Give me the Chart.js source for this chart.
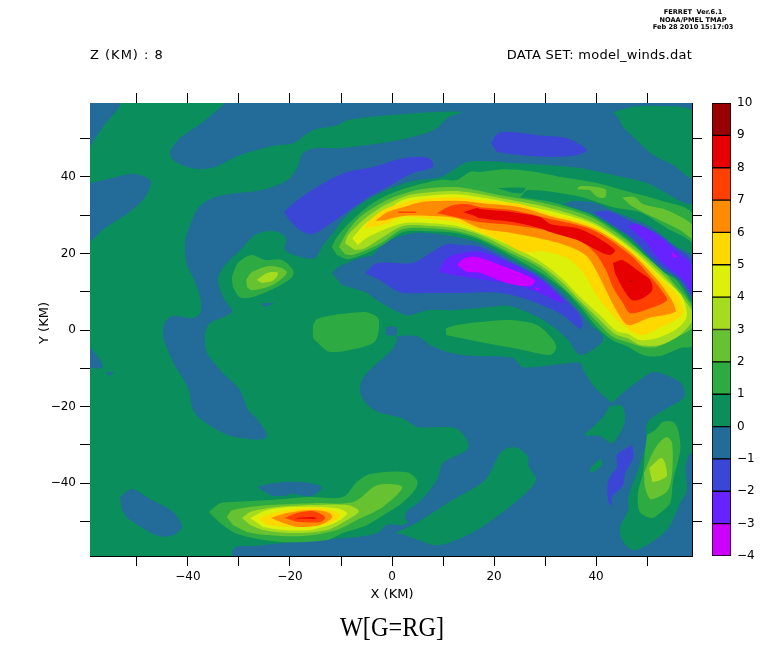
<!DOCTYPE html>
<html lang="en">

<head>
  <meta charset="UTF-8">
  <title>W[G=RG]</title>
  <style>
    body { margin: 0; background: #fff; }
    #page { position: relative; width: 768px; height: 662px; overflow: hidden; }
    canvas { position: absolute; top: 0; }
    #mainChart { left: 0; }
    #barChart { left: 700px; }
    .txt { position: absolute; color: #000; font-family: "DejaVu Sans", sans-serif; font-size: 13px; white-space: pre; line-height: 1; }
    .small { font-size: 6.6px; width: 100px; text-align: center; left: 643px; font-weight: bold; }
  </style>
</head>

<body>
  <div id="page">
    <canvas id="mainChart" width="768" height="662"></canvas>
    <canvas id="barChart" width="68" height="662"></canvas>
    <div class="txt small" style="top:9px">FERRET  Ver.6.1</div>
    <div class="txt small" style="top:17px">NOAA/PMEL TMAP</div>
    <div class="txt small" style="top:24px">Feb 28 2010 15:17:03</div>
    <div class="txt" style="left:90px;top:48px;letter-spacing:1px">Z (KM) : 8</div>
    <div class="txt" style="right:76px;top:48px;letter-spacing:0.25px">DATA SET: model_winds.dat</div>
    <div class="txt" style="left:12px;top:340px;width:50px;text-align:center;transform:rotate(-90deg);transform-origin:25px 0;margin-top:-17px;margin-left:0">Y (KM)</div>
    <div class="txt" style="left:342px;width:100px;text-align:center;top:587px">X (KM)</div>
    <div class="txt" style="left:292px;width:200px;text-align:center;top:614px;font-family:'Liberation Serif',serif;font-size:27px;transform:scaleX(0.9)">W[G=RG]</div>
  </div>

  <script src="https://cdn.jsdelivr.net/npm/chart.js"></script>
  <script>
    // contour band edges and the colour of each band (-4..-3 up to 9..10)
    const bandEdges = [-4, -3, -2, -1, 0, 1, 2, 3, 4, 5, 6, 7, 8, 9, 10];
    const bandColors = ['#cc00ff', '#6622ff', '#3c46d6', '#236b99', '#0a8f5c', '#2eaa42', '#66c230', '#a6dc1e', '#dcf00a', '#ffd800', '#ff8c00', '#ff4000', '#e60000', '#990000'];

    const tickValues = [-50, -40, -30, -20, -10, 0, 10, 20, 30, 40, 50];
    const labelValues = [-40, -20, 0, 20, 40];

    // contour outlines in km. [x, y]
    const base = [[-59.2, 59.3], [59, 59.3], [59, -59], [-59.2, -59]];

    // -1..0
    const blueBig = [[-32.7, 59.3], [-37.1, 54.3], [-41.6, 50.1], [-43.5, 46.5], [-42.9, 44.4], [-40.6, 42.8], [-37.1, 42], [-34.3, 42.8], [-30.4, 45.4], [-26.5, 47], [-22.5, 48.3], [-19.4, 48.8], [-15.5, 52.2], [-10.8, 53.5], [-8.8, 54.8], [-2.4, 55.9], [7.5, 56.9], [13.7, 56.9], [10.8, 55.4], [8.8, 52.7], [6.1, 51.2], [0.2, 49.3], [-10.2, 47.5], [-15.1, 47.5], [-17.5, 46.2], [-18.6, 42.3], [-20.4, 39.2], [-25.5, 36.6], [-32.2, 35.5], [-35.3, 34.5], [-38, 31.9], [-39.2, 28.7], [-40.6, 23], [-40.2, 17], [-39, 13.8], [-37.6, 8.6], [-37.5, 4.7], [-39, 3.1], [-42.9, 3.7], [-44.5, 2.1], [-44.9, -0.8], [-44.7, -2.6], [-42.9, -8.4], [-40, -15.1], [-39, -20.9], [-37.3, -23.5], [-32.2, -27.4], [-27.5, -28.5], [-25.3, -28.5], [-24.5, -27.4], [-26.3, -23.5], [-28.2, -20.9], [-29.8, -15.7], [-33.3, -11], [-36.3, -6], [-36.7, -2.6], [-36.7, -0.8], [-35.7, 1.8], [-31.4, 4.7], [-33.1, 8.6], [-34.1, 13.1], [-33.1, 16.4], [-29.4, 21.4], [-26.9, 24.8], [-24.5, 25.8], [-22.4, 25.6], [-20.8, 24], [-21, 20.9], [-18, 19.1], [-15.1, 18.8], [-13.5, 22.2], [-11.6, 25.3], [-8.8, 30], [-4.9, 33.9], [-1, 36.6], [4.1, 38.9], [9.4, 39.9], [12, 41.8], [14.7, 43.9], [19.2, 44.1], [23.7, 43.6], [30.4, 43.1], [36.9, 42.3], [43.3, 40.5], [50, 38.4], [59, 33.4], [59, 59.3]];
    const blueUnder = [[-11.8, 14.9], [-10.6, 16.4], [-6.3, 18.8], [-3.7, 19.6], [-2.4, 21.7], [-0.4, 23.5], [4.1, 25.3], [7.5, 25.3], [12.7, 24.3], [17.3, 22.7], [23.7, 18.3], [29, 14.4], [33.5, 9.7], [36.9, 4.7], [39.4, 0.8], [41.2, -1.3], [41.2, -3.1], [36.9, -6.5], [34.5, -2.6], [32.4, 0], [29, 3.1], [23.1, 6.3], [19.2, 6], [12, 5.2], [6.9, 5.2], [2.9, 3.9], [-2.4, 7.3], [-4.9, 9.7], [-9.8, 11.7]];
    const blueSquare = [[-1.2, 0.8], [0.8, 0.8], [0.8, -1.3], [-1.2, -1.3]];
    const blueLower = [[0.8, -1.6], [4.9, -1.6], [7.5, -3.9], [10.8, -5.7], [13.9, -6.5], [17.3, -6.8], [23.7, -7.3], [25.7, -9.7], [34.9, -8.6], [36.9, -8.6], [37.5, -10.4], [39.4, -14.4], [41.4, -17], [43.1, -18.8], [44.7, -17], [50.6, -11.2], [52.6, -11.2], [56.5, -13.6], [57.3, -15.7], [57.1, -17.8], [52.6, -21.4], [50, -24.3], [49.8, -29.5], [48.2, -36.6], [46.3, -43.6], [46.3, -47], [44.7, -51.4], [45.1, -54.8], [47.1, -57.4], [49.2, -56.7], [53.9, -52.2], [56.5, -45.2], [57.8, -41.8], [57.5, -36.6], [58, -33.2], [59, -31.9], [59, -59], [-31.2, -59], [-30.8, -56.7], [-27.5, -56.4], [-14.5, -54.8], [-7.3, -54.1], [-2.9, -53], [-1, -50.9], [2, -50.9], [3.1, -50.1], [2.5, -49.1], [3.1, -47], [5.1, -45.2], [8.8, -39.2], [10, -34.7], [14.7, -31.3], [14.9, -29.2], [12.4, -25.6], [5.1, -25.3], [2, -23], [-2.7, -21.4], [-5.3, -18.8], [-6.3, -15.7], [-5.7, -12.5], [-3.3, -9.1], [0, -5.2], [1, -2.6]];
    const blueCorner = [[-59.2, 59.3], [-53.3, 59.3], [-56.7, 53], [-59.2, 47.8]];
    const blueLeft = [[-59.2, 38.4], [-56.3, 39.2], [-51.8, 40.7], [-49.4, 40.5], [-47.3, 38.9], [-48.4, 34.7], [-51.8, 30.5], [-56.3, 26.6], [-59.2, 23]];
    const blueEdge = [[-59.2, -4.4], [-56.9, -8.4], [-56.9, -9.9], [-59.2, -9.9]];
    const blueTiny = [[-56.3, -11], [-54.5, -11], [-55.3, -12]];
    const blueBlob = [[-53.3, -43.6], [-51, -41.5], [-47.1, -44.4], [-42.9, -47.5], [-41.2, -51.4], [-42.9, -53.5], [-45.9, -53.8], [-51.8, -49.1], [-52.9, -47]];
    const blueSouth = [[-26.5, -41], [-22.9, -39.9], [-17.6, -39.7], [-13.7, -41], [-15.7, -43.3], [-18.4, -43.1], [-19.4, -42.6], [-21, -43.3], [-23.5, -43.3]];
    const blueTiny2 = [[-25.7, 7], [-23.1, 7], [-25.1, 6]];

    // 0..1 islands sitting on the blue
    const greenTopRight = [[43.3, 56.9], [46.7, 58.2], [52, 58.5], [59, 56.9], [59, 39.7], [55.1, 43.1], [51.2, 45.7], [48, 49.6], [45.3, 53], [44.3, 55.6]];
    const greenLens = [[0.6, -53], [5.1, -50.1], [11.8, -44.4], [18.2, -39.2], [21.2, -32.1], [22.7, -30.8], [24.7, -30.8], [26.7, -33.2], [26.7, -35.3], [28.2, -39.2], [24.7, -44.4], [19.6, -49.6], [14.9, -53.5], [9, -56.2], [5.1, -54.8], [2.5, -53.5]];
    const greenIsland = [[42.7, -19.8], [45.1, -19.8], [45.7, -23.5], [44.7, -26.9], [43.1, -29.5], [40.8, -27.7], [37.8, -27.4], [39.2, -25.6], [41.4, -22.7]];
    const greenSpeck = [[38.6, -36.6], [40.8, -33.7], [41.2, -35.3], [39.2, -37.3]];

    // -2..-1
    const violetA = [[-21.2, 30.8], [-18, 34.5], [-11.6, 39.7], [-8.8, 41.3], [-3.7, 42.6], [2.2, 44.9], [7.3, 44.9], [8, 42.6], [4.1, 41], [-1, 37.3], [-4.9, 34.5], [-11.6, 28.2], [-15.5, 25.1], [-18, 26.1], [-20.4, 29.2]];
    const violetB = [[19.4, 48.8], [20.8, 51.4], [23.1, 51.7], [28.4, 50.9], [34.3, 50.1], [38.2, 47], [36.3, 45.7], [31, 45.2], [25.1, 45.7], [20.6, 46.5]];
    const violetC = [[-5.3, 14.9], [-2.9, 17.5], [4.1, 17.5], [7.5, 20.1], [10.8, 22.5], [13.3, 22.2], [17.3, 21.7], [23.7, 17.5], [29, 13.8], [33.5, 8.6], [36.9, 3.9], [37.3, 1.3], [36.9, 0.3], [32.9, 4.4], [25.7, 8.4], [21.2, 9.7], [17.3, 9.9], [14.7, 9.7], [6.9, 9.7], [1.6, 9.9], [-2.4, 13.1]];
    const violetD = [[47.1, -30], [47.3, -33.4], [45.7, -37.3], [45.3, -40.5], [43.1, -43.6], [43.1, -45.7], [42.4, -44.9], [42.4, -39.2], [44.1, -35.8], [44.1, -32.6], [46.3, -30.6]];

    // -3..-2 and -4..-3 under the ridge
    const purpleA = [[9.4, 16.2], [10.8, 18.8], [12.7, 19.8], [17.3, 20.4], [23.7, 17.2], [29, 13.3], [33.5, 7.8], [33.5, 7], [29, 9.7], [23.7, 12], [17.3, 13.3], [13.3, 14.1], [9.4, 15.1]];
    const magentaA = [[12.7, 17], [14.3, 18.8], [16.7, 19.1], [21.2, 17], [28, 13.1], [27.1, 11.5], [22.5, 12.3], [17.3, 14.9], [14.7, 15.1]];
    const magentaB = [[28, 11.2], [29, 10.7], [28.2, 10.4]];

    // the main ridge, 1..2 up to 9..10
    const ridge1 = [[-11.8, 21.7], [-10.8, 24.3], [-8.2, 28.2], [-4.9, 32.1], [-1, 35.2], [4.1, 37.6], [9.4, 39.2], [12.7, 39.2], [15.3, 41.3], [17.3, 41.3], [21.8, 42], [27.1, 41.5], [33.5, 39.9], [40.2, 38.4], [46.7, 36], [52.5, 33.9], [59, 30], [59, -3.9], [56.5, -4.7], [52.5, -6.8], [49.2, -6.5], [46.1, -4.2], [43.1, -2.6], [39.8, 1.3], [36.9, 6], [33.5, 10.7], [29, 15.1], [23.7, 19.1], [17.3, 23.5], [12.7, 25.3], [7.5, 25.8], [2.2, 25.6], [-1.8, 22.2], [-4.9, 20.1], [-8.6, 18.5], [-10.8, 19.6]];

    // the wedge north east of the ridge, laid over ridge1
    const wedgeGreen = [[25.1, 34.7], [26.7, 36.6], [36.3, 35], [43.3, 32.1], [48.6, 30.8], [53.9, 26.6], [59, 22.2], [59, 7.3], [55.7, 13.1], [52.5, 15.7], [46.7, 23.2], [39.4, 29.8], [33.5, 32.6], [30.4, 33.7]];
    const wedgeLens = [[20.6, 37.1], [26.1, 37.1], [25.5, 35.8], [23.7, 35.8]];
    const wedgeBlue = [[33.5, 32.9], [35.5, 33.7], [39.8, 33.2], [43.3, 31.1], [48, 28.7], [51.2, 26.6], [55.1, 22.2], [59, 19.1], [59, 8.1], [56.1, 13.1], [52.5, 16.2], [46.7, 24], [39.4, 30.3]];
    const wedgeViolet = [[39.4, 30.8], [42.4, 31.1], [46.3, 28.7], [52, 25.3], [55.9, 21.4], [59, 17.8], [59, 8.9], [56.5, 13.1], [52.5, 17], [46.7, 24.5]];
    const wedgePurple = [[46.3, 27.2], [48, 27.7], [52, 24.8], [55.9, 20.4], [59, 16.4], [59, 9.9], [57.1, 13.1], [52.5, 18.3], [50, 22.7]];
    const wedgeMagenta = [[54.9, 20.4], [55.9, 19.1], [55.1, 19.1]];

    const ridge2 = [[-10.4, 21.7], [-8.8, 25.6], [-6.3, 29.5], [-2.9, 32.6], [0.2, 34.7], [4.9, 36.6], [9.4, 37.3], [13.3, 37.3], [17.3, 36.3], [21.2, 35.2], [27.1, 33.9], [33.5, 31.9], [39.4, 29.2], [46.7, 22.7], [53.9, 14.4], [54.7, 13.1], [59, 5.7], [59, 0.8], [55.5, -2.1], [52, -4.4], [49.2, -4.4], [46.1, -3.1], [43.3, -1.8], [40.2, 2.1], [36.9, 6.8], [33.5, 11.2], [29, 16.2], [23.7, 19.8], [17.3, 24], [12.7, 25.8], [7.5, 26.6], [2.2, 26.4], [-1.8, 23], [-3.7, 21.7], [-7.8, 19.6], [-9.2, 19.8]];
    const patchA = [[36.3, 36.8], [36.9, 37.6], [41.8, 36.8], [41.8, 34.7], [40.4, 34.7], [38.8, 36.6]];
    const patchB = [[45.1, 34.7], [47.6, 34.7], [49.2, 32.9], [53.9, 31.3], [59, 27.4], [59, 24], [56.5, 26.1], [52.5, 28.7], [49.2, 30.8], [46.7, 32.6]];
    const ridge3 = [[-9.2, 22.7], [-8.6, 24.8], [-5.7, 28.7], [-2.4, 31.9], [1.6, 34.5], [4.1, 35.5], [12, 36.3], [17.3, 35.5], [21.2, 34.5], [30.4, 32.1], [39.4, 28.2], [46.7, 21.9], [54.1, 13.1], [59, 4.7], [59, 2.6], [57.8, 0.5], [55.9, -1.8], [52.5, -3.9], [48.6, -3.9], [46.1, -2.1], [43.7, -1], [40.4, 3.1], [36.9, 7.6], [33.5, 12.3], [29, 17], [23.7, 20.6], [17.3, 24.8], [12.7, 26.6], [7.5, 27.2], [2.2, 27.2], [-1.8, 24.3], [-5.3, 21.4], [-7.3, 20.9]];
    const ridge4 = [[-7.8, 24], [-4.9, 28.2], [-1.4, 30.8], [1.6, 33.7], [4.1, 34.7], [12, 35.5], [17.3, 34.7], [30.4, 31.3], [39.4, 27.7], [46.7, 21.4], [53.5, 13.1], [56.7, 9.1], [57.8, 4.7], [57.5, 2.6], [55.5, 0], [52, -2.1], [48.6, -2.6], [46.3, -1], [44.1, -0.3], [40.8, 3.9], [36.9, 8.6], [33.5, 13.3], [29, 18], [23.7, 21.7], [17.3, 25.3], [12.7, 27.2], [7.5, 27.9], [2.2, 27.9], [-1.8, 26.1], [-4.7, 24.3], [-6.7, 22.2]];
    const ridge5 = [[-5.5, 26.6], [-4.3, 28.7], [-1.8, 31.3], [1.6, 32.9], [4.1, 33.9], [12, 34.7], [17.3, 33.9], [25.1, 32.9], [30.4, 30.5], [39.4, 27.2], [46.7, 20.9], [52.9, 13.1], [55.9, 9.1], [57.1, 5.2], [56.5, 3.4], [51.6, 0], [49.2, -1.3], [46.7, -0.3], [46.3, 0.3], [45.3, 1.3], [42.4, 5.2], [39.8, 9.7], [37.5, 14.9], [34.3, 18.8], [29.6, 20.6], [25.7, 20.4], [21.2, 23.5], [17.3, 25.6], [12.7, 28.2], [7.5, 29], [2.2, 29.5], [-1.8, 27.4]];
    const ridge6 = [[-3.3, 28.5], [-1, 30.8], [2.2, 32.1], [5.5, 33.4], [8.8, 33.7], [13.9, 33.7], [17.3, 33.2], [25.1, 32.1], [30.4, 30], [39.4, 26.6], [46.7, 20.4], [52, 13.1], [54.5, 8.6], [55.3, 6.5], [55.5, 4.7], [50.2, 3.1], [46.3, 1.3], [44.3, 4.4], [42.2, 9.7], [40.2, 15.1], [38.2, 19.3], [35.5, 21.4], [30.4, 23.5], [23.7, 25.3], [17.3, 26.6], [12.7, 29.2], [7.5, 29.8], [2.2, 29.8], [-1.4, 28.7]];
    const ridge7 = [[8.8, 30.5], [11.4, 32.4], [14.7, 32.9], [17.3, 32.1], [23.7, 31.3], [30.4, 29.2], [39.4, 26.1], [46.7, 19.6], [51.2, 13.1], [53.1, 9.9], [53.9, 7.8], [50.6, 5.7], [46.7, 4.4], [45.3, 7], [43.3, 11.2], [42.2, 14.9], [40.8, 18.3], [39.8, 20.1], [36.9, 23.5], [32.9, 25.6], [29, 26.4], [23.7, 27.4], [17.3, 28.2], [10.8, 30]];
    const ridge7Thin = [[1.2, 30.9], [4.7, 30.9], [4.7, 30.6], [1.2, 30.6]];
    const ridge8Band = [[13.9, 30.8], [16.7, 31.9], [17.3, 31.6], [23.7, 30.8], [29, 29.5], [31, 27.7], [36.3, 26.6], [39.4, 24.8], [43.7, 20.9], [42.7, 19.6], [39.4, 21.4], [36.3, 23.5], [31, 25.6], [29, 26.6], [23.7, 28.2], [17.3, 29.2], [15.9, 30]];
    const ridge8Lobe = [[43.3, 17.5], [45.1, 18.3], [48, 15.7], [50.6, 13.1], [51, 10.4], [49.2, 8.4], [47.1, 7.8], [45.1, 11.2], [43.7, 14.9]];
    const ridge9 = [[46.6, 12.9], [47.1, 12.9], [47.1, 12.6], [46.6, 12.6]];

    // hot spot in the south
    const south1 = [[-35.9, -47.5], [-33.7, -45.2], [-31.2, -44.9], [-23.9, -44.4], [-16.1, -43.6], [-9.6, -43.6], [-6.9, -39.7], [-4.3, -37.6], [2.9, -37.1], [4.9, -39.2], [4.7, -41.3], [2.2, -44.9], [-1, -47.8], [-4.9, -50.9], [-9.6, -53], [-12.7, -54.8], [-20.6, -55.4], [-27.3, -54.3], [-31.2, -52.7], [-33.7, -50.4]];
    const south2 = [[-32.4, -48.8], [-31.2, -47], [-23.9, -45.7], [-15.5, -45.2], [-7.6, -44.9], [-2.9, -40.5], [2, -41], [-1.8, -46.2], [-6.9, -49.6], [-10.8, -52.2], [-17.5, -53.8], [-24.5, -53.5], [-28.4, -52.7], [-31.2, -50.9]];
    const south3 = [[-29.4, -49.1], [-27.8, -47.5], [-22.5, -46.2], [-15.5, -45.7], [-8.8, -45.7], [-6.5, -47.3], [-8.8, -49.6], [-12.7, -52.2], [-19.4, -53], [-25.3, -52.2], [-27.8, -50.9]];
    const south4 = [[-27.8, -49.1], [-24.5, -47], [-19.4, -46.2], [-10.8, -46.5], [-8.8, -47.8], [-10.8, -50.1], [-16.1, -52.2], [-21.4, -52.2], [-25.3, -51.4]];
    const south5 = [[-26.1, -49.3], [-23.3, -47.8], [-18.6, -46.7], [-12.7, -46.7], [-10.2, -48.3], [-11.6, -50.1], [-16.1, -51.4], [-20.6, -51.4], [-24.5, -50.9]];
    const south6 = [[-23.7, -49.1], [-20.6, -47.8], [-15.5, -47], [-12.2, -47.8], [-11.8, -49.1], [-14.1, -50.9], [-18.6, -51.4], [-21.4, -50.4]];
    const south7 = [[-21, -49.1], [-18.6, -47.8], [-15.5, -47.3], [-13.1, -48.8], [-14.1, -50.1], [-18.6, -50.1]];
    const south8 = [[-18.8, -49.1], [-15.5, -48.8], [-14.7, -49.2], [-18.6, -49.3]];

    // small hill on the left
    const hill1 = [[-31.4, 13.8], [-30.2, 17.5], [-27.5, 19.6], [-24.9, 18.3], [-21.6, 18.3], [-19.4, 15.7], [-19.6, 13.8], [-22.9, 11], [-27.5, 8.6], [-29.8, 8.6], [-31.2, 11.2]];
    const hill2 = [[-28.6, 13.1], [-27.5, 15.1], [-24.3, 16.7], [-21.6, 16.2], [-20.6, 14.9], [-23.5, 11.7], [-27.5, 10.4], [-28.4, 11.2]];
    const hill3 = [[-26.5, 13.1], [-24.5, 14.9], [-22.5, 15.1], [-22.4, 14.4], [-23.5, 12.8], [-25.5, 12.3]];

    // 1..2 lenses in the middle
    const lensMid = [[-15.5, 1.3], [-14.7, 2.9], [-11.6, 3.9], [-5.7, 4.7], [-4.3, 4.4], [-2.7, 3.1], [-2.7, -0.8], [-3.7, -3.4], [-8.2, -5.2], [-12.2, -5.7], [-13.7, -4.4], [-15.5, -2.1]];
    const lensRight = [[10.6, 0.5], [12.7, 1.3], [17.3, 2.1], [23.1, 2.6], [28.4, 1.3], [31.6, -2.6], [32.2, -4.7], [31, -6.5], [25.7, -5.2], [17.3, -3.1], [15.3, -2.6], [10.6, -1.3]];

    // hill in the south east
    const east1 = [[50, -27.4], [51.6, -26.1], [53.1, -24], [55.1, -24], [56.1, -26.1], [56.5, -31.3], [55.1, -39.2], [54.5, -45.2], [52.5, -47.8], [51, -49.1], [48.6, -47.5], [48.2, -42.6], [49.2, -37.3], [49.6, -31.3]];
    const east2 = [[50.6, -33.4], [52, -30], [53.9, -27.9], [54.9, -29.5], [54.9, -37.3], [54.1, -41.8], [52.2, -43.6], [50.6, -44.1], [49.6, -41], [49.4, -37.3]];
    const east3 = [[50.4, -36], [52.9, -33.4], [53.9, -37.9], [52.5, -39.2], [51, -39.7]];

    // painting order, each outline with the lower edge of its band
    const layers = [
      [base, 0],
      [blueBig, -1], [blueUnder, -1], [blueSquare, -1], [blueLower, -1], [blueCorner, -1], [blueLeft, -1], [blueEdge, -1], [blueTiny, -1], [blueBlob, -1], [blueSouth, -1], [blueTiny2, -1],
      [greenTopRight, 0], [greenLens, 0], [greenIsland, 0], [greenSpeck, 0],
      [violetA, -2], [violetB, -2], [violetC, -2], [violetD, -2],
      [purpleA, -3], [magentaA, -4], [magentaB, -4],
      [ridge1, 1],
      [wedgeGreen, 0], [wedgeLens, 0], [wedgeBlue, -1], [wedgeViolet, -2], [wedgePurple, -3], [wedgeMagenta, -4],
      [ridge2, 2], [patchA, 2], [patchB, 2], [ridge3, 3], [ridge4, 4], [ridge5, 5], [ridge6, 6], [ridge7, 7], [ridge7Thin, 7], [ridge8Band, 8], [ridge8Lobe, 8], [ridge9, 9],
      [south1, 1], [south2, 2], [south3, 3], [south4, 4], [south5, 5], [south6, 6], [south7, 7], [south8, 8],
      [hill1, 1], [hill2, 2], [hill3, 3],
      [lensMid, 1], [lensRight, 1],
      [east1, 1], [east2, 2], [east3, 3]
    ];

    function corLevel(level) {
      return bandColors[bandEdges.indexOf(level)];
    }

    const tickFont = { family: 'DejaVu Sans', size: 12 };

    function rotulo(valor) {
      if (!labelValues.includes(valor)) return '';
      return String(valor).replace('-', '\u2212');
    }

    function eixo(position, min, max, size, showLabels) {
      const horizontal = position === 'top' || position === 'bottom';
      return {
        type: 'linear',
        position: position,
        min: min,
        max: max,
        grid: { drawOnChartArea: false, drawTicks: true, tickLength: 10, color: '#000', lineWidth: 1 },
        border: { display: true, color: '#000', width: 1 },
        ticks: {
          display: showLabels,
          autoSkip: false,
          maxRotation: 0,
          color: '#000',
          font: tickFont,
          padding: 4,
          callback: rotulo
        },
        afterBuildTicks: scale => { scale.ticks = tickValues.map(v => ({ value: v })); },
        afterFit: scale => {
          if (horizontal) scale.height = size; else scale.width = size;
        }
      };
    }

    new Chart(document.getElementById('mainChart'), {
      type: 'scatter',
      data: {
        // datasets are painted last to first, so order keeps the list above as painting order
        datasets: layers.map(([outline, level], i) => ({
          data: outline.map(p => ({ x: p[0], y: p[1] })),
          order: layers.length - i,
          showLine: true,
          fill: 'shape',
          backgroundColor: corLevel(level),
          borderWidth: 0,
          pointRadius: 0,
          tension: 0.3 // rounds the outlines a bit, the real contours are smooth
        }))
      },
      options: {
        responsive: false,
        animation: false,
        layout: { padding: 0 },
        plugins: { legend: { display: false }, tooltip: { enabled: false } },
        scales: {
          x: eixo('bottom', -59.2, 58.8, 106, true),
          x2: eixo('top', -59.2, 58.8, 103, false),
          y: eixo('left', -59, 59.3, 90, true),
          y2: eixo('right', -59, 59.3, 76, false)
        }
      }
    });

    // colour key on the right
    new Chart(document.getElementById('barChart'), {
      type: 'bar',
      data: {
        labels: ['W'],
        datasets: bandColors.map((cor, i) => ({
          data: [[bandEdges[i], bandEdges[i + 1]]],
          backgroundColor: cor,
          borderColor: '#000',
          borderWidth: 1,
          borderSkipped: false,
          barPercentage: 1,
          categoryPercentage: 1
        }))
      },
      options: {
        responsive: false,
        animation: false,
        layout: { padding: { top: 103, bottom: 106, left: 12 } },
        plugins: { legend: { display: false }, tooltip: { enabled: false } },
        scales: {
          x: { display: false, stacked: true },
          y: {
            position: 'right',
            min: -4,
            max: 10,
            grid: { display: false, drawTicks: false },
            border: { display: false },
            ticks: {
              stepSize: 1,
              color: '#000',
              font: tickFont,
              padding: 6,
              callback: v => String(v).replace('-', '\u2212')
            },
            afterFit: scale => { scale.width = 37; }
          }
        }
      }
    });
  </script>
</body>

</html>
